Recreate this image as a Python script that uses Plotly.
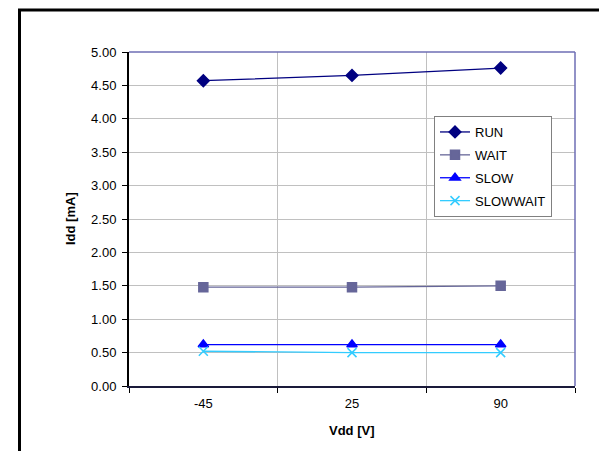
import plotly.graph_objects as go

categories = ["-45", "25", "90"]
run = [4.57, 4.65, 4.76]
wait = [1.48, 1.48, 1.50]
slow = [0.62, 0.62, 0.62]
slowwait = [0.52, 0.50, 0.50]
yticks = [0, 0.5, 1, 1.5, 2, 2.5, 3, 3.5, 4, 4.5, 5]

W, H = 607, 451
L, R, T, B = 121, 40, 44, 73
pw, ph = W - L - R, H - T - B

def px2x(px):
    return (px - L) / pw

def py2y(py):
    return (H - B - py) / ph

fig = go.Figure()
series = [
    ("RUN", run, "#000080", "diamond", 9, 1.3),
    ("WAIT", wait, "#666699", "square", 9, 1.3),
    ("SLOW", slow, "#0000FF", "triangle-up", 9, 1.3),
    ("SLOWWAIT", slowwait, "#33CCFF", "x-thin-open", 9, 1.3),
]
for i, (name, vals, col, sym, sz, lw) in enumerate(series):
    fig.add_trace(go.Scatter(
        x=categories, y=vals, name=name, mode="lines+markers",
        line=dict(color=col, width=lw),
        marker=dict(symbol=sym, size=sz, color=col, line=dict(color=col, width=1.5)),
        legendgroup=f"g{i}",
    ))

font = dict(family="Liberation Sans, Arial, sans-serif", size=13, color="black")

fig.update_layout(
    width=W, height=H,
    margin=dict(l=L, r=R, t=T, b=B, autoexpand=False),
    paper_bgcolor="white", plot_bgcolor="white",
    font=font,
    showlegend=True,
    legend=dict(
        x=px2x(426), y=py2y(108), xanchor="left", yanchor="top",
        bgcolor="white", bordercolor="#808080", borderwidth=1,
        font=dict(size=13), tracegroupgap=3, traceorder="grouped",
        itemwidth=30,
    ),
    xaxis=dict(
        type="category", range=[-0.5, 2.5], tickson="boundaries",
        ticks="outside", ticklen=5, tickcolor="black", tickwidth=1,
        showline=True, linecolor="#1a1a3a", linewidth=2,
        showgrid=True, gridcolor="#C0C0C0", gridwidth=1,
        zeroline=False, ticklabelstandoff=4, fixedrange=True,
    ),
    yaxis=dict(
        range=[0, 5], tickvals=yticks, tickformat=".2f",
        ticks="outside", ticklen=5, tickcolor="black", tickwidth=1,
        showline=True, linecolor="black", linewidth=2,
        showgrid=True, gridcolor="#C0C0C0", gridwidth=1,
        zeroline=False, ticklabelstandoff=3, fixedrange=True,
    ),
    shapes=[
        dict(type="line", xref="paper", yref="paper", x0=0, x1=1, y0=1, y1=1,
             line=dict(color="#6E6EB4", width=1.5), layer="above"),
        dict(type="line", xref="paper", yref="paper", x0=1, x1=1, y0=0, y1=1,
             line=dict(color="#6E6EB4", width=1.5), layer="above"),
        dict(type="rect", xref="paper", yref="paper",
             x0=px2x(11.5), x1=px2x(598.5), y0=py2y(460), y1=py2y(2),
             line=dict(color="black", width=3), fillcolor="rgba(0,0,0,0)", layer="above"),
    ],
    annotations=[
        dict(text="<b>Idd [mA]</b>", xref="paper", yref="paper", x=px2x(62), y=0.5,
             textangle=-90, showarrow=False, font=dict(size=13), xanchor="center", yanchor="middle"),
        dict(text="<b>Vdd [V]</b>", xref="paper", yref="paper", x=0.5, y=py2y(423),
             showarrow=False, font=dict(size=13), xanchor="center", yanchor="middle"),
    ],
)

fig.write_html("out.html")
